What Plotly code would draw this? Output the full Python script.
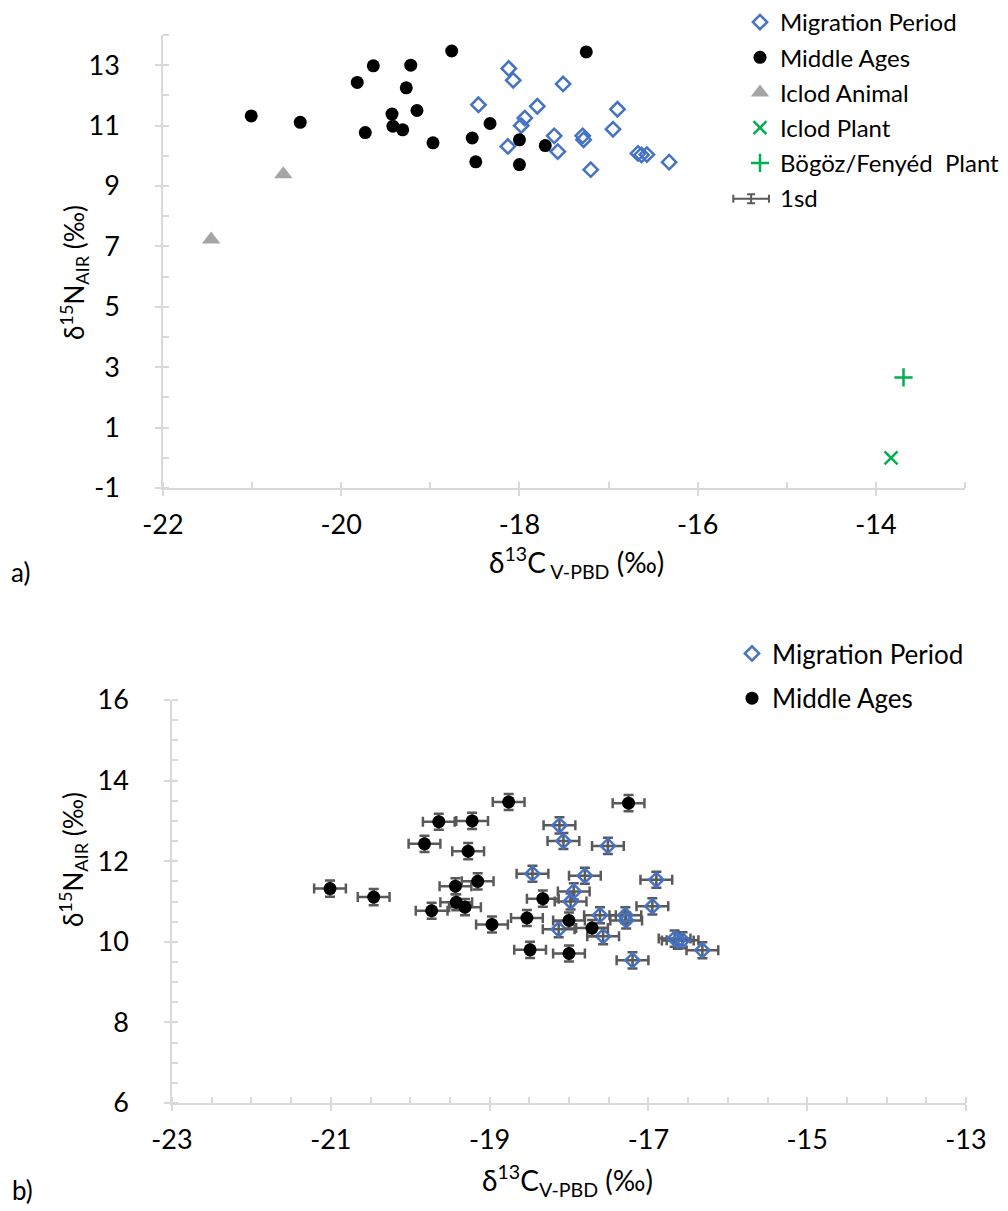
import plotly.graph_objects as go

# ---------------- data ----------------
mig_x = [-18.12, -18.07, -17.51, -18.46, -17.80, -16.90, -17.94, -17.98, -16.95, -17.61,
         -17.29, -17.28, -18.13, -17.57, -16.67, -16.63, -16.57, -16.32, -17.20]
mig_y = [12.89, 12.50, 12.38, 11.69, 11.64, 11.54, 11.25, 11.00, 10.88, 10.66,
         10.66, 10.53, 10.31, 10.14, 10.08, 10.03, 10.04, 9.79, 9.54]

mid_x = [-21.01, -20.46, -19.82, -19.64, -19.22, -19.27, -19.43, -19.15, -19.42, -19.31,
         -19.73, -18.97, -18.76, -18.33, -18.53, -18.00, -18.49, -18.00, -17.71, -17.25]
mid_y = [11.32, 11.11, 12.43, 12.98, 13.00, 12.25, 11.38, 11.50, 10.98, 10.86,
         10.77, 10.43, 13.47, 11.07, 10.59, 10.53, 9.80, 9.71, 10.34, 13.44]

animal_x = [-20.65, -21.46]
animal_y = [9.39, 7.23]
iclod_plant_x = [-13.83]
iclod_plant_y = [0.0]
bogoz_x = [-13.69]
bogoz_y = [2.66]
sd_x = [-15.40]
sd_y = [8.58]
sd_value = 0.2

names = ["Migration Period", "Middle Ages", "Iclod Animal", "Iclod Plant",
         "Bögöz/Fenyéd\u00a0 Plant", "1sd"]

# tick labels
top_xticks = [-22, -20, -18, -16, -14]
top_yticks = [-1, 1, 3, 5, 7, 9, 11, 13]
bot_xticks = [-23, -21, -19, -17, -15, -13]
bot_yticks = [6, 8, 10, 12, 14, 16]
top_xlabels = ["-22", "-20", "-18", "-16", "-14"]
top_ylabels = ["-1", "1", "3", "5", "7", "9", "11", "13"]
bot_xlabels = ["-23", "-21", "-19", "-17", "-15", "-13"]
bot_ylabels = ["6", "8", "10", "12", "14", "16"]

# ---------------- styles ----------------
FONT = "Lato"
BLUE = "#4472C4"
GREEN = "#00B050"
GRAY = "#A5A5A5"
AXIS = "#D9D9D9"
ERR = "#595959"

fig = go.Figure()

# top panel
fig.add_trace(go.Scatter(x=mig_x, y=mig_y, mode="markers", name=names[0],
                         marker=dict(symbol="diamond-open", size=11, color=BLUE, line=dict(width=2.5, color=BLUE)),
                         xaxis="x", yaxis="y", legend="legend", legendgroup="a"))
fig.add_trace(go.Scatter(x=mid_x, y=mid_y, mode="markers", name=names[1],
                         marker=dict(symbol="circle", size=13, color="black"),
                         xaxis="x", yaxis="y", legend="legend", legendgroup="b"))
fig.add_trace(go.Scatter(x=animal_x, y=animal_y, mode="markers", name=names[2],
                         marker=dict(symbol="triangle-up", size=16, color=GRAY),
                         xaxis="x", yaxis="y", legend="legend", legendgroup="c"))
fig.add_trace(go.Scatter(x=iclod_plant_x, y=iclod_plant_y, mode="markers", name=names[3],
                         marker=dict(symbol="x-thin-open", size=13, color=GREEN, line=dict(width=2.5, color=GREEN)),
                         xaxis="x", yaxis="y", legend="legend", legendgroup="d"))
fig.add_trace(go.Scatter(x=bogoz_x, y=bogoz_y, mode="markers", name=names[4],
                         marker=dict(symbol="cross-thin-open", size=13, color=GREEN, line=dict(width=2.5, color=GREEN)),
                         xaxis="x", yaxis="y", legend="legend", legendgroup="e"))
fig.add_trace(go.Scatter(x=sd_x, y=sd_y, mode="markers", name=names[5],
                         marker=dict(symbol="circle", size=2, color="rgba(0,0,0,0)"),
                         error_x=dict(type="constant", value=sd_value, color=ERR, thickness=2, width=4),
                         error_y=dict(type="constant", value=sd_value * 0.75, color=ERR, thickness=2, width=4),
                         xaxis="x", yaxis="y", legend="legend", legendgroup="f"))

# bottom panel
errb = dict(type="constant", value=sd_value, color=ERR, thickness=2.5, width=5)
fig.add_trace(go.Scatter(x=mig_x, y=mig_y, mode="markers", name=names[0],
                         marker=dict(symbol="diamond-open", size=11, color=BLUE, line=dict(width=2.5, color=BLUE)),
                         error_x=errb, error_y=errb,
                         xaxis="x2", yaxis="y2", legend="legend2", legendgroup="g"))
fig.add_trace(go.Scatter(x=mid_x, y=mid_y, mode="markers", name=names[1],
                         marker=dict(symbol="circle", size=13, color="black"),
                         error_x=errb, error_y=errb,
                         xaxis="x2", yaxis="y2", legend="legend2", legendgroup="h"))

W, H = 1008, 1211
def px(x):
    return x / W
def py(y):
    return 1 - y / H

tickfont = dict(family=FONT, size=27, color="black")

def axis(domain, rng, tvals, ttext, tick0, mdtick, anchor, standoff):
    return dict(domain=domain, range=rng, tickmode="array", tickvals=tvals, ticktext=ttext,
                showline=True, linecolor=AXIS, linewidth=1.5, showgrid=False, zeroline=False,
                ticks="outside", ticklen=6, tickwidth=1.5, tickcolor=AXIS,
                minor=dict(tickmode="linear", tick0=tick0, dtick=mdtick, ticks="inside", ticklen=6,
                           tickwidth=1.5, tickcolor=AXIS, showgrid=False),
                ticklabelstandoff=standoff,
                tickfont=tickfont, anchor=anchor, automargin=False, fixedrange=True)

def note(text, x, y, size, angle=0):
    return dict(text=text, x=px(x), y=py(y), xref="paper", yref="paper", xanchor="center",
                yanchor="middle", textangle=angle, showarrow=False,
                font=dict(family=FONT, size=size, color="black"))

fig.update_layout(
    width=W, height=H, margin=dict(l=0, r=0, t=0, b=0),
    paper_bgcolor="white", plot_bgcolor="white",
    font=dict(family=FONT, size=24, color="black"),
    xaxis=axis([px(163), px(965)], [-22, -13], top_xticks, top_xlabels, -22, 1, "y", 6),
    yaxis=axis([py(488), py(35)], [-1, 14], top_yticks, top_ylabels, -1, 1, "x", 30),
    xaxis2=axis([px(172), px(966)], [-23, -13], bot_xticks, bot_xlabels, -23, 0.5, "y2", 6),
    yaxis2=axis([py(1103), py(700)], [6, 16], bot_yticks, bot_ylabels, 6, 0.5, "x2", 30),
    legend=dict(x=px(740), y=py(0), xanchor="left", yanchor="top", bgcolor="rgba(0,0,0,0)",
                font=dict(family=FONT, size=24, color="black"), tracegroupgap=1,
                itemclick=False, itemdoubleclick=False),
    legend2=dict(x=px(732), y=py(630), xanchor="left", yanchor="top", bgcolor="rgba(0,0,0,0)",
                 font=dict(family=FONT, size=26, color="black"), tracegroupgap=8,
                 itemclick=False, itemdoubleclick=False),
    annotations=[
        note("δ<sup>15</sup>N<sub>AIR</sub> (‰)", 74, 273, 26, -90),
        note("δ<sup>13</sup>C<sub> V-PBD</sub> (‰)", 576, 562, 28),
        note("δ<sup>15</sup>N<sub>AIR</sub> (‰)", 73, 860, 26, -90),
        note("δ<sup>13</sup>C<sub>V-PBD</sub> (‰)", 567, 1180, 28),
        note("a)", 20, 572, 26),
        note("b)", 22, 1190, 26),
    ],
)

fig.write_html("out.html")
